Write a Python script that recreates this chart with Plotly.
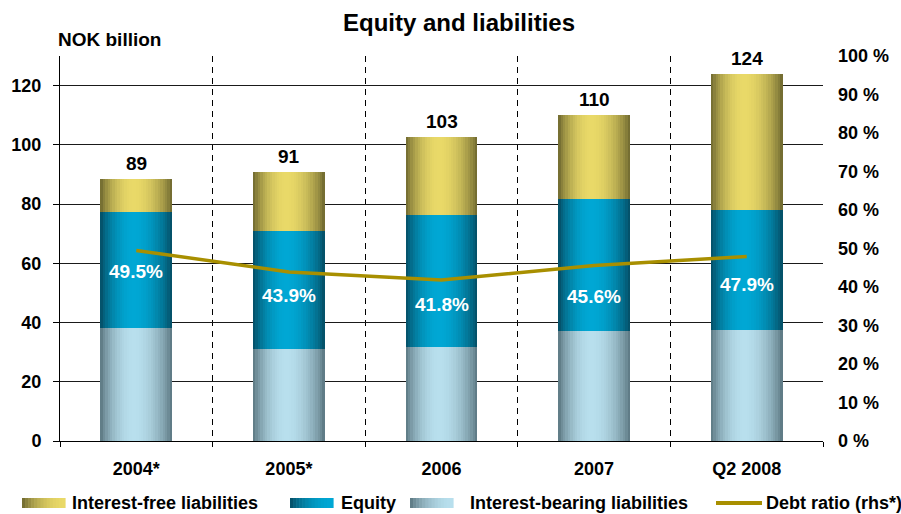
import math
import plotly.graph_objects as go

# Balance sheet composition, NOK billion
categories = ["2004*", "2005*", "2006", "2007", "Q2 2008"]
interest_bearing = [38.3, 31.2, 31.9, 37.2, 37.4]
equity = [39.1, 39.8, 44.4, 44.4, 40.7]
interest_free = [11.2, 19.8, 26.5, 28.4, 45.7]
debt_ratio = [49.5, 43.9, 41.8, 45.6, 47.9]  # percent, right-hand scale

FONT = "Liberation Sans, Arial, sans-serif"
LINE_COLOR = "#A88F00"

# edge colour and highlight colour of each cylinder-shaded series
SHADES = {
    "Interest-free liabilities": ((104, 98, 44), (233, 217, 104)),
    "Equity": ((5, 72, 94), (0, 167, 212)),
    "Interest-bearing liabilities": ((86, 113, 123), (184, 223, 237)),
}


def shade(name, t):
    """Colour across a bar: dark at both edges, bright just left of centre."""
    edge, peak = SHADES[name]
    pk = 0.46
    u = 0.5 * t / pk if t < pk else 0.5 + 0.5 * (t - pk) / (1 - pk)
    f = math.sin(math.pi * u) ** 0.75
    r, g, b = (round(e + (p - e) * f) for e, p in zip(edge, peak))
    return f"rgb({r},{g},{b})"


xpos = list(range(len(categories)))
eq_base = interest_bearing
if_base = [a + b for a, b in zip(interest_bearing, equity)]
totals = [a + b for a, b in zip(if_base, interest_free)]

series = [
    ("Interest-bearing liabilities", interest_bearing, [0] * len(xpos)),
    ("Equity", equity, eq_base),
    ("Interest-free liabilities", interest_free, if_base),
]

fig = go.Figure()

BAR_W = 0.47
STRIPS = 30
step = BAR_W / STRIPS
for name, vals, base in series:
    for k in range(STRIPS):
        off = -BAR_W / 2 + k * step
        w = min(step * 1.7, BAR_W / 2 - off)
        fig.add_trace(go.Bar(
            x=xpos, y=vals, base=base,
            offset=off, width=w,
            marker=dict(color=shade(name, (k + 0.5) / STRIPS), line=dict(width=0)),
            showlegend=False, hoverinfo="skip",
        ))

fig.add_trace(go.Scatter(
    x=xpos, y=debt_ratio, yaxis="y2", mode="lines",
    line=dict(color=LINE_COLOR, width=3.5),
    showlegend=False, hoverinfo="skip",
))

annotations = []
# totals above the bars
for x, t in zip(xpos, totals):
    annotations.append(dict(
        x=x, y=t, xref="x", yref="y", text=f"{round(t)}", showarrow=False,
        yanchor="bottom", yshift=3,
        font=dict(family=FONT, size=19, color="black", weight="bold"),
    ))
# debt ratio labels inside the equity segment
ratio_label_heights = [57.2, 49.3, 46.2, 48.9, 52.9]
for x, h, r in zip(xpos, ratio_label_heights, debt_ratio):
    annotations.append(dict(
        x=x, y=h, xref="x", yref="y", text=f"{r:.1f}%", showarrow=False,
        font=dict(family=FONT, size=19, color="white", weight="bold"),
    ))

annotations.append(dict(
    x=0.523, y=1.088, xref="paper", yref="paper", text="Equity and liabilities",
    showarrow=False, xanchor="center", yanchor="middle",
    font=dict(family=FONT, size=24, color="black", weight="bold"),
))
annotations.append(dict(
    x=-0.005, y=1.042, xref="paper", yref="paper", text="NOK billion",
    showarrow=False, xanchor="left", yanchor="middle",
    font=dict(family=FONT, size=19, color="black", weight="bold"),
))

# legend row drawn under the plot
PX_L, PX_W, PX_B, PX_H = 60, 763, 441, 385


def px(xp):
    return (xp - PX_L) / PX_W


def py(yp):
    return (PX_B - yp) / PX_H


shapes = []
legend_items = [
    ("Interest-free liabilities", 22, 70),
    ("Equity", 290, 339),
    ("Interest-bearing liabilities", 410, 468),
]
LEG_Y = 503
for name, sx, tx in legend_items:
    n = 14
    sw = 43
    for k in range(n):
        t = 0.46 * (k + 0.5) / n
        shapes.append(dict(
            type="rect", xref="paper", yref="paper",
            x0=px(sx + sw * k / n), x1=px(sx + sw * (k + 1) / n + 0.6),
            y0=py(LEG_Y + 5), y1=py(LEG_Y - 5),
            fillcolor=shade(name, t), line=dict(width=0), layer="above",
        ))
    annotations.append(dict(
        x=px(tx), y=py(LEG_Y), xref="paper", yref="paper", text=name,
        showarrow=False, xanchor="left", yanchor="middle",
        font=dict(family=FONT, size=18, color="black", weight="bold"),
    ))
shapes.append(dict(
    type="line", xref="paper", yref="paper",
    x0=px(716), x1=px(762), y0=py(LEG_Y), y1=py(LEG_Y),
    line=dict(color=LINE_COLOR, width=4), layer="above",
))
annotations.append(dict(
    x=px(764), y=py(LEG_Y), xref="paper", yref="paper", text="Debt ratio (rhs*)",
    showarrow=False, xanchor="left", yanchor="middle",
    font=dict(family=FONT, size=18, color="black", weight="bold"),
))

fig.update_layout(
    width=901, height=514,
    margin=dict(l=60, r=78, t=56, b=73),
    paper_bgcolor="white", plot_bgcolor="white",
    barmode="overlay", bargap=0,
    showlegend=False,
    font=dict(family=FONT, size=18, color="black"),
    xaxis=dict(
        range=[-0.5, len(categories) - 0.5],
        tickmode="array", tickvals=xpos, ticktext=categories,
        ticks="", showgrid=False, zeroline=False,
        showline=True, linecolor="black", linewidth=1,
        tickfont=dict(family=FONT, size=18, color="black", weight="bold"),
        ticklabelstandoff=11,
        minor=dict(
            tickmode="array",
            tickvals=[i + 0.5 for i in range(-1, len(categories))],
            showgrid=True, griddash="6px,5px", gridcolor="black", gridwidth=1,
            ticks="outside", ticklen=5, tickcolor="black",
        ),
    ),
    yaxis=dict(
        range=[0, 130], tick0=0, dtick=20,
        showgrid=True, gridcolor="#1a1a1a", gridwidth=1, zeroline=False,
        showline=True, linecolor="black", linewidth=1,
        ticks="outside", ticklen=6, tickcolor="black",
        tickfont=dict(family=FONT, size=18, color="black", weight="bold"),
        ticklabelstandoff=8,
    ),
    yaxis2=dict(
        overlaying="y", side="right", anchor="x",
        range=[0, 100], tick0=0, dtick=10, ticksuffix=" %",
        showgrid=False, zeroline=False, showline=False, ticks="",
        tickfont=dict(family=FONT, size=18, color="black", weight="bold"),
        ticklabelstandoff=14,
    ),
    annotations=annotations,
    shapes=shapes,
)

fig.write_html("out.html")
